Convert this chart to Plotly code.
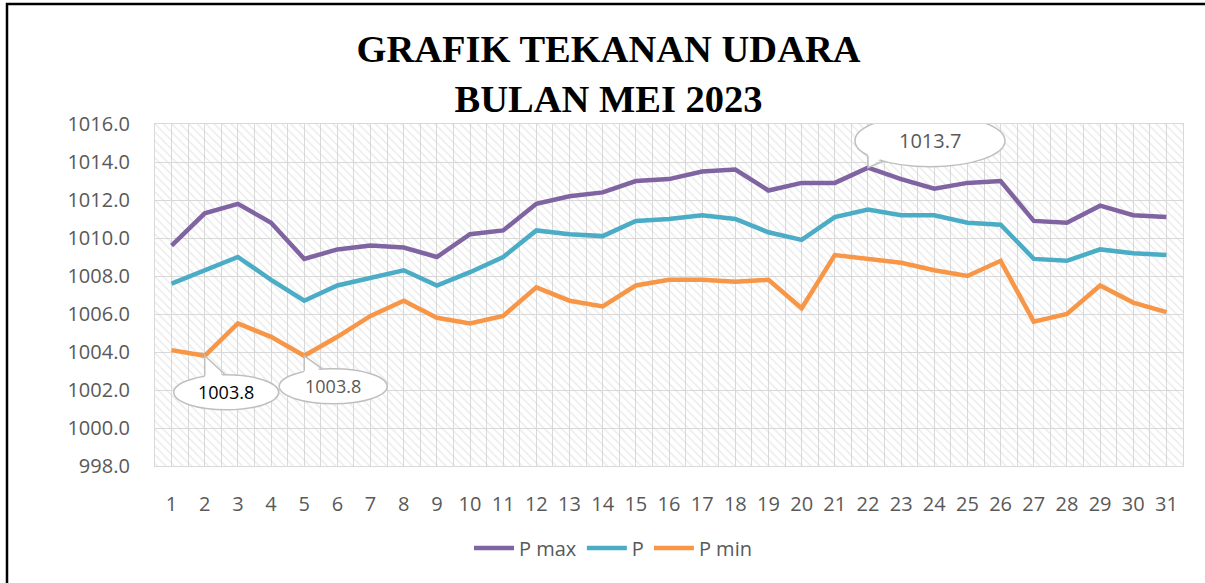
import plotly.graph_objects as go

days = list(range(1, 32))
p_max = [1009.6, 1011.3, 1011.8, 1010.8, 1008.9, 1009.4, 1009.6, 1009.5, 1009.0, 1010.2,
         1010.4, 1011.8, 1012.2, 1012.4, 1013.0, 1013.1, 1013.5, 1013.6, 1012.5, 1012.9,
         1012.9, 1013.7, 1013.1, 1012.6, 1012.9, 1013.0, 1010.9, 1010.8, 1011.7, 1011.2, 1011.1]
p_avg = [1007.6, 1008.3, 1009.0, 1007.8, 1006.7, 1007.5, 1007.9, 1008.3, 1007.5, 1008.2,
         1009.0, 1010.4, 1010.2, 1010.1, 1010.9, 1011.0, 1011.2, 1011.0, 1010.3, 1009.9,
         1011.1, 1011.5, 1011.2, 1011.2, 1010.8, 1010.7, 1008.9, 1008.8, 1009.4, 1009.2, 1009.1]
p_min = [1004.1, 1003.8, 1005.5, 1004.8, 1003.8, 1004.8, 1005.9, 1006.7, 1005.8, 1005.5,
         1005.9, 1007.4, 1006.7, 1006.4, 1007.5, 1007.8, 1007.8, 1007.7, 1007.8, 1006.3,
         1009.1, 1008.9, 1008.7, 1008.3, 1008.0, 1008.8, 1005.6, 1006.0, 1007.5, 1006.6, 1006.1]

y_lo, y_hi = 998, 1016
grid = "#d9d9d9"
txt = "#595959"
font_main = "Open Sans"

fig = go.Figure()

# hatched plot-area background (Excel pattern fill)
fig.add_trace(go.Bar(
    x=[(days[0] + days[-1]) / 2], y=[y_hi - y_lo], base=[y_lo], width=[len(days)],
    marker=dict(color="rgba(0,0,0,0)", line_width=0,
                pattern=dict(shape="\\", fgcolor="#d4d4d4", bgcolor="rgba(0,0,0,0)",
                             size=6, solidity=0.22)),
    showlegend=False, hoverinfo="skip",
))

series = [("P max", p_max, "#8064A2"), ("P", p_avg, "#4BACC6"), ("P min", p_min, "#F79646")]
for name, vals, col in series:
    fig.add_trace(go.Scatter(x=days, y=vals, name=name, mode="lines",
                             line=dict(color=col, width=4.5)))

# callouts: (day, series values, ellipse box px, wedge base px, text colour, font size)
callouts = [
    (2, p_min, (-31, 74, -54, -19), ((0, -20), (20, -18.5)), "#000000", 18),
    (5, p_min, (-25, 83, -48, -13), ((0, -15), (18, -13)), txt, 18),
    (22, p_max, (-13, 137, 1, 53), ((0, 12), (15, 6.5)), txt, 20),
]
shapes = []
for day, vals, (ex0, ex1, ey0, ey1), ((ax, ay), (bx, by)), tcol, fs in callouts:
    yv = vals[day - 1]
    common = dict(xref="x", yref="y", xsizemode="pixel", ysizemode="pixel",
                  xanchor=day, yanchor=yv, layer="above")
    shapes.append(dict(type="circle", x0=ex0, x1=ex1, y0=ey0, y1=ey1,
                       fillcolor="white", line=dict(color="#bfbfbf", width=1.5), **common))
    dy = 4 if ey0 < 0 else -4
    shapes.append(dict(type="path",
                       path=f"M0,0 L{ax},{ay - dy} L{bx},{by - dy} Z",
                       fillcolor="white", line=dict(width=0), **common))
    shapes.append(dict(type="path", path=f"M{ax},{ay} L0,0 L{bx},{by}",
                       fillcolor="rgba(0,0,0,0)", line=dict(color="#bfbfbf", width=1.5), **common))
    fig.add_annotation(x=day, y=yv, xref="x", yref="y", text=f"{yv:.1f}", showarrow=False,
                       xshift=(ex0 + ex1) / 2, yshift=(ey0 + ey1) / 2,
                       font=dict(family=font_main, size=fs, color=tcol))

# chart frame (left and top edges visible in the crop)
W, H = 1205, 583
ml, mr, mt, mb = 155, 22, 124, 117
pw, ph = W - ml - mr, H - mt - mb
shapes.append(dict(type="rect", xref="paper", yref="paper",
                   x0=(7 - ml) / pw, x1=(W + 20 - ml) / pw,
                   y0=(H - mb - (H + 20)) / ph, y1=(H - mb - 4) / ph,
                   line=dict(color="black", width=2.5), fillcolor="rgba(0,0,0,0)", layer="above"))

fig.update_layout(
    width=W, height=H,
    margin=dict(l=ml, r=mr, t=mt, b=mb),
    paper_bgcolor="white", plot_bgcolor="white",
    shapes=shapes,
    title=dict(text="GRAFIK TEKANAN UDARA<br>BULAN MEI 2023",
               x=0.505, xanchor="center", xref="container",
               y=0.893, yanchor="top", yref="container",
               font=dict(family="Liberation Serif", size=38.5, color="black", weight="bold")),
    legend=dict(orientation="h", x=(613 - ml) / pw, xanchor="center",
                y=(H - mb - 548) / ph, yanchor="middle",
                font=dict(family=font_main, size=20, color=txt), itemwidth=40),
    showlegend=True,
    bargap=0,
)
fig.update_xaxes(range=[0.5, len(days) + 0.5], tickmode="linear", tick0=1, dtick=1,
                 showgrid=True, gridcolor=grid, gridwidth=1.3,
                 minor=dict(tick0=0.5, dtick=1, showgrid=True, gridcolor=grid, gridwidth=1.3),
                 showline=True, linecolor=grid, linewidth=1.3, mirror=True,
                 ticks="", ticklabelstandoff=20, zeroline=False,
                 tickfont=dict(family=font_main, size=20, color=txt))
fig.update_yaxes(range=[y_lo, y_hi], tickmode="linear", tick0=y_lo, dtick=2, tickformat=".1f",
                 showgrid=True, gridcolor=grid, gridwidth=1.3,
                 showline=True, linecolor=grid, linewidth=1.3, mirror=True,
                 ticks="", ticklabelstandoff=20, zeroline=False,
                 tickfont=dict(family=font_main, size=20, color=txt))

fig.write_html("out.html", config={"displayModeBar": False},
               post_script="document.body.style.margin='0';")
